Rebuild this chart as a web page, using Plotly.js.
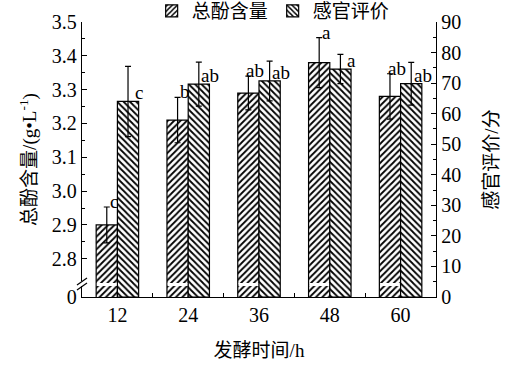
<!DOCTYPE html>
<html><head><meta charset="utf-8">
<script src="https://cdn.plot.ly/plotly-3.0.1.min.js"></script>
<style>html,body{margin:0;padding:0;background:#fff}#c{width:505px;height:366px}</style>
</head><body><div id="c"></div>
<script>
const categories = ['12','24','36','48','60'];
const phenol = [2.90, 3.21, 3.29, 3.38, 3.28];
const phenolErr = [0.053, 0.067, 0.05, 0.074, 0.067];
const phenolLetters = ['c','b','ab','a','ab'];
const sensory = [64.0, 69.7, 70.7, 74.6, 69.8];
const sensoryErr = [11.5, 7.2, 6.5, 4.8, 7.0];
const sensoryLetters = ['c','ab','ab','a','ab'];
const leftTickVals = [2.687, 2.8, 2.9, 3.0, 3.1, 3.2, 3.3, 3.4, 3.5];
const leftTickText = ['0','2.8','2.9','3.0','3.1','3.2','3.3','3.4','3.5'];
const names = ['总酚含量','感官评价'];

const FONT = 'Liberation Serif, "Times New Roman", "Noto Sans CJK SC", serif';
const W = 0.3;
const traces = [
  {type:'bar', name:names[0], x:categories, y:phenol, yaxis:'y', width:W, offset:-W,
   marker:{color:'#fff', line:{color:'#000', width:1.2},
     pattern:{shape:'/', fgcolor:'#000', bgcolor:'#fff', size:4.5, solidity:0.4}},
   error_y:{type:'data', array:phenolErr, color:'#000', thickness:1.2, width:3}},
  {type:'bar', name:names[1], x:categories, y:sensory, yaxis:'y2', width:W, offset:0,
   marker:{color:'#fff', line:{color:'#000', width:1.2},
     pattern:{shape:'\\', fgcolor:'#000', bgcolor:'#fff', size:4.5, solidity:0.4}},
   error_y:{type:'data', array:sensoryErr, color:'#000', thickness:1.2, width:3}}
];

const annotations = [];
categories.forEach((c,i)=>{
  annotations.push({xref:'x', yref:'y', x:i - W/2 + 0.1, y:phenol[i]+phenolErr[i],
    text:phenolLetters[i], showarrow:false, yanchor:'bottom', yshift:-6, borderpad:0,
    font:{family:FONT, size:19, color:'#000'}});
  annotations.push({xref:'x', yref:'y2', x:i + W/2 + 0.16, y:sensory[i],
    text:sensoryLetters[i], showarrow:false, yanchor:'bottom', yshift:-3, borderpad:0,
    font:{family:FONT, size:19, color:'#000'}});
});

// axis-break decoration
const shapes = [];
const py = p => (297 - p) / 275;   // pixel row -> paper y
const px = p => p / 354;           // pixel offset -> paper x
categories.forEach((c,i)=>{
  shapes.push({type:'rect', xref:'x', yref:'paper', x0:i - W + 0.01, x1:i - 0.01,
    y0:py(286), y1:py(283), fillcolor:'#fff', line:{width:0}, layer:'above'});
});
shapes.push({type:'rect', xref:'paper', yref:'paper', x0:-px(3), x1:px(3), y0:py(286), y1:py(281),
  fillcolor:'#fff', line:{width:0}});
shapes.push({type:'line', xref:'paper', yref:'paper', x0:-px(5), x1:px(5), y0:py(285), y1:py(278),
  line:{color:'#000', width:1.2}});
shapes.push({type:'line', xref:'paper', yref:'paper', x0:-px(5), x1:px(5), y0:py(290), y1:py(283),
  line:{color:'#000', width:1.2}});

const minorLeft = [];
for (let v = 2.85; v < 3.5; v += 0.1) minorLeft.push(+v.toFixed(2));

const layout = {
  width:505, height:366,
  margin:{l:82, r:69, t:22, b:69, autoexpand:false},
  paper_bgcolor:'#fff', plot_bgcolor:'#fff',
  font:{family:FONT, size:20, color:'#000'},
  showlegend:true,
  legend:{orientation:'h', x:0.54, xanchor:'center', yref:'container', y:1 - 11/366, yanchor:'middle',
    font:{family:FONT, size:19}, bgcolor:'rgba(0,0,0,0)', itemwidth:30, tracegroupgap:0},
  barmode:'overlay',
  xaxis:{type:'category', range:[-0.5,4.5], showline:true, linecolor:'#000', linewidth:1.2,
    ticks:'inside', tickson:'boundaries', ticklen:4, tickcolor:'#000', showgrid:false, zeroline:false,
    tickfont:{family:FONT, size:20},
    title:{text:'发酵时间/h', font:{family:FONT, size:19}, standoff:18}},
  yaxis:{range:[2.687,3.5], tickmode:'array', tickvals:leftTickVals, ticktext:leftTickText,
    showline:true, linecolor:'#000', linewidth:1.2, ticks:'inside', ticklen:5, tickcolor:'#000',
    minor:{tickmode:'array', tickvals:minorLeft, ticks:'inside', ticklen:3, tickcolor:'#000'},
    showgrid:false, zeroline:false, tickfont:{family:FONT, size:20},
    title:{text:'总酚含量/(g•L<sup>-1</sup>)', font:{family:FONT, size:19}, standoff:10}},
  yaxis2:{range:[0,90], overlaying:'y', side:'right', dtick:10, tick0:0,
    showline:true, linecolor:'#000', linewidth:1.2, ticks:'inside', ticklen:5, tickcolor:'#000',
    minor:{dtick:5, ticks:'inside', ticklen:3, tickcolor:'#000'},
    showgrid:false, zeroline:false, tickfont:{family:FONT, size:20},
    title:{text:'感官评价/分', font:{family:FONT, size:19}, standoff:24}},
  annotations:annotations,
  shapes:shapes
};
Plotly.newPlot('c', traces, layout, {displayModeBar:false, staticPlot:true});
</script></body></html>
